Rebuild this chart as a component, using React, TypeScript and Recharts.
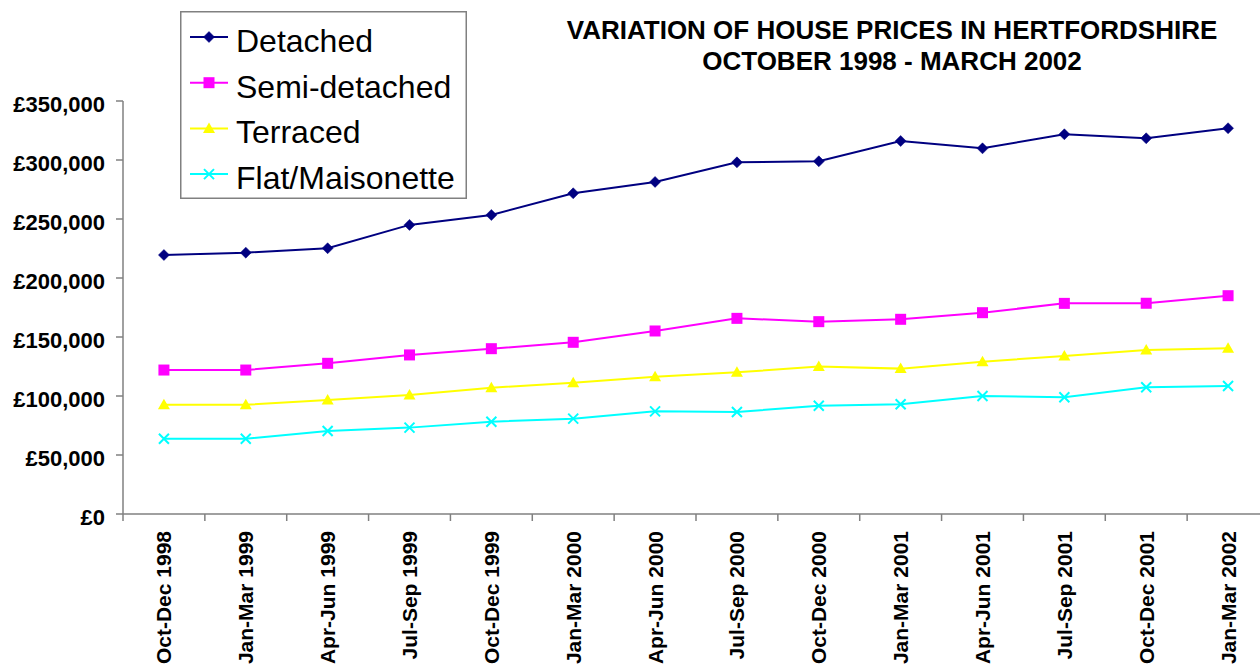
import { LineChart, Line, XAxis, YAxis, Legend } from 'recharts';

const periods = [
  'Oct-Dec 1998', 'Jan-Mar 1999', 'Apr-Jun 1999', 'Jul-Sep 1999', 'Oct-Dec 1999',
  'Jan-Mar 2000', 'Apr-Jun 2000', 'Jul-Sep 2000', 'Oct-Dec 2000', 'Jan-Mar 2001',
  'Apr-Jun 2001', 'Jul-Sep 2001', 'Oct-Dec 2001', 'Jan-Mar 2002',
];
const detached = [219500, 221500, 225200, 245000, 253400, 271800, 281400, 298000, 298900, 316100, 309900, 321800, 318400, 326900];
const semiDetached = [122000, 122000, 127700, 134800, 140100, 145500, 155100, 165800, 163000, 165000, 170600, 178500, 178600, 185000];
const terraced = [92600, 92600, 96600, 100900, 107000, 111300, 116400, 120100, 124900, 123200, 129100, 133900, 139000, 140400];
const flatMaisonette = [63800, 63800, 70300, 73200, 78200, 80800, 87000, 86400, 91800, 93000, 100000, 98900, 107400, 108500];
const yTicks = [0, 50000, 100000, 150000, 200000, 250000, 300000, 350000];

const data = periods.map((period, i) => ({
  period,
  detached: detached[i],
  semi: semiDetached[i],
  terraced: terraced[i],
  flat: flatMaisonette[i],
}));

const series = [
  { key: 'detached', name: 'Detached', color: '#000080', shape: 'diamond' },
  { key: 'semi', name: 'Semi-detached', color: '#FF00FF', shape: 'square' },
  { key: 'terraced', name: 'Terraced', color: '#FFFF00', shape: 'triangle' },
  { key: 'flat', name: 'Flat/Maisonette', color: '#00FFFF', shape: 'cross' },
];

const FONT = 'Arial, "Liberation Sans", sans-serif';
const AXIS = '#808080';

function Marker({ cx, cy, shape, color }: any) {
  if (cx == null || cy == null) return null;
  switch (shape) {
    case 'diamond':
      return <polygon points={`${cx},${cy - 5.5} ${cx + 5.5},${cy} ${cx},${cy + 5.5} ${cx - 5.5},${cy}`} fill={color} stroke={color} strokeWidth={0.5} />;
    case 'square':
      return <rect x={cx - 5.5} y={cy - 5.5} width={11} height={11} fill={color} />;
    case 'triangle':
      return <polygon points={`${cx},${cy - 6} ${cx + 6},${cy + 4.5} ${cx - 6},${cy + 4.5}`} fill={color} />;
    default:
      return (
        <path
          d={`M${cx - 5},${cy - 5}L${cx + 5},${cy + 5}M${cx + 5},${cy - 5}L${cx - 5},${cy + 5}`}
          stroke={color}
          strokeWidth={2}
          fill="none"
        />
      );
  }
}

const fmt = (v: number) => '£' + v.toLocaleString('en-GB');

function MoneyTick({ x, y, payload }: any) {
  return (
    <text x={x} y={y} dy={10.5} textAnchor="end" fontFamily={FONT} fontWeight="bold" fontSize={22} fill="#000">
      {fmt(payload.value)}
    </text>
  );
}

function PeriodTick({ x, y, payload, index, visibleTicksCount }: any) {
  const half = typeof payload.offset === 'number' && payload.offset > 0 ? payload.offset : 40.93;
  return (
    <g>
      <line x1={x - half} x2={x - half} y1={y} y2={y + 7} stroke={AXIS} strokeWidth={1.5} />
      {index === visibleTicksCount - 1 && (
        <line x1={x + half} x2={x + half} y1={y} y2={y + 7} stroke={AXIS} strokeWidth={1.5} />
      )}
      <text
        transform={`translate(${x},${y + 17}) rotate(-90)`}
        x={0}
        y={7.5}
        textAnchor="end"
        fontFamily={FONT}
        fontWeight="bold"
        fontSize={21}
        fill="#000"
      >
        {payload.value}
      </text>
    </g>
  );
}

function LegendBox() {
  return (
    <svg width={287} height={188} style={{ display: 'block' }}>
      <rect x={0.75} y={0.75} width={285.5} height={186.5} fill="#fff" stroke={AXIS} strokeWidth={1.5} />
      {series.map((s, i) => {
        const cy = 26 + i * 45.7;
        return (
          <g key={s.key}>
            <line x1={10} x2={48} y1={cy} y2={cy} stroke={s.color} strokeWidth={2} />
            <Marker cx={29} cy={cy} shape={s.shape} color={s.color} />
            <text x={56} y={cy + 15} fontFamily={FONT} fontSize={32} fill="#000">
              {s.name}
            </text>
          </g>
        );
      })}
    </svg>
  );
}

export default function App() {
  return (
    <div
      style={{
        position: 'fixed',
        left: 0,
        top: 0,
        width: 1260,
        height: 666,
        overflow: 'hidden',
        background: '#fff',
        fontFamily: FONT,
      }}
    >
      <LineChart width={1280} height={666} data={data} margin={{ top: 101, right: 11, bottom: 0, left: 0 }}>
        <XAxis
          dataKey="period"
          scale="band"
          interval={0}
          height={152}
          tickLine={false}
          tickSize={0}
          tickMargin={0}
          axisLine={{ stroke: AXIS, strokeWidth: 1.5 }}
          tick={<PeriodTick />}
        />
        <YAxis
          width={123}
          domain={[0, 350000]}
          ticks={yTicks}
          interval={0}
          tickSize={7}
          tickMargin={11}
          tickLine={{ stroke: AXIS, strokeWidth: 1.5 }}
          axisLine={{ stroke: AXIS, strokeWidth: 1.5 }}
          tick={<MoneyTick />}
        />
        <Legend
          layout="horizontal"
          verticalAlign="middle"
          align="center"
          content={() => <LegendBox />}
          wrapperStyle={{ position: 'absolute', left: 180, top: 11, width: 287, height: 188 }}
        />
        {series.map((s) => (
          <Line
            key={s.key}
            type="linear"
            dataKey={s.key}
            name={s.name}
            stroke={s.color}
            strokeWidth={2}
            isAnimationActive={false}
            dot={(p: any) => <Marker key={`${s.key}-${p.index}`} cx={p.cx} cy={p.cy} shape={s.shape} color={s.color} />}
            activeDot={false}
          />
        ))}
      </LineChart>
      <div
        style={{
          position: 'absolute',
          left: 492,
          top: 15,
          width: 800,
          textAlign: 'center',
          fontFamily: FONT,
          fontWeight: 'bold',
          fontSize: 26,
          lineHeight: '30.6px',
          color: '#000',
        }}
      >
        VARIATION OF HOUSE PRICES IN HERTFORDSHIRE
        <br />
        OCTOBER 1998 - MARCH 2002
      </div>
    </div>
  );
}
